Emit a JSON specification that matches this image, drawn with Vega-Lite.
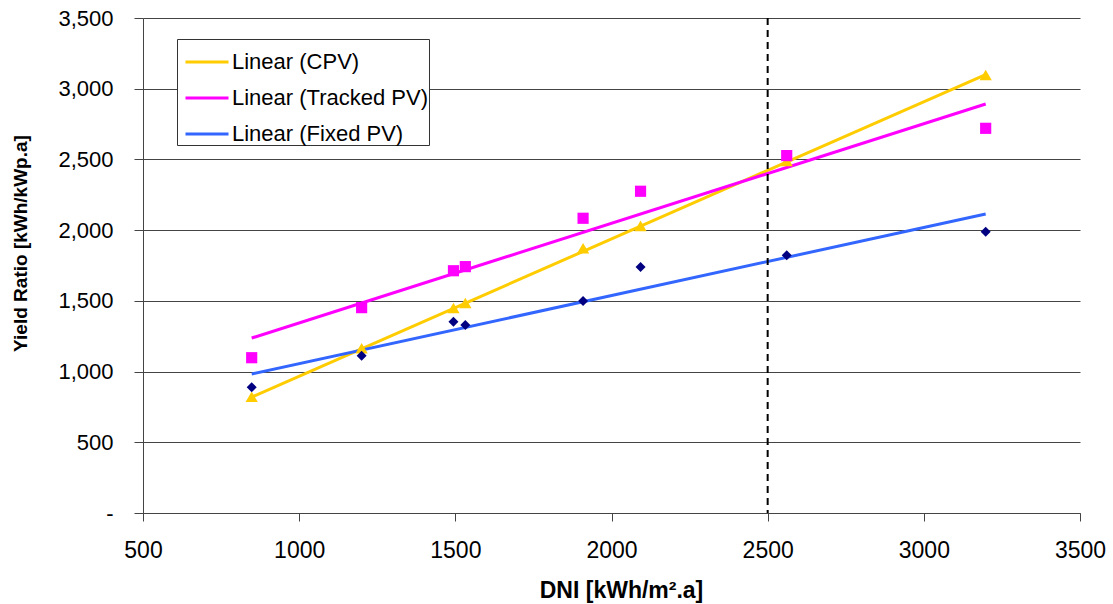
{
  "$schema": "https://vega.github.io/schema/vega-lite/v6.json",
  "autosize": {"type": "none"},
  "width": 937,
  "height": 495,
  "padding": {"left": 143, "top": 18, "right": 33, "bottom": 91},
  "background": "white",
  "config": {
    "view": {"stroke": null},
    "font": "Liberation Sans"
  },
  "datasets": {
    "pts": [
      {"series": "CPV", "dni": 848, "yield": 822},
      {"series": "CPV", "dni": 1200, "yield": 1165},
      {"series": "CPV", "dni": 1494, "yield": 1450},
      {"series": "CPV", "dni": 1532, "yield": 1485},
      {"series": "CPV", "dni": 1909, "yield": 1872},
      {"series": "CPV", "dni": 2093, "yield": 2030},
      {"series": "CPV", "dni": 2561, "yield": 2490},
      {"series": "CPV", "dni": 3198, "yield": 3097},
      {"series": "Tracked PV", "dni": 848, "yield": 1098},
      {"series": "Tracked PV", "dni": 1200, "yield": 1452},
      {"series": "Tracked PV", "dni": 1494, "yield": 1713},
      {"series": "Tracked PV", "dni": 1532, "yield": 1742},
      {"series": "Tracked PV", "dni": 1909, "yield": 2084},
      {"series": "Tracked PV", "dni": 2093, "yield": 2275},
      {"series": "Tracked PV", "dni": 2561, "yield": 2527},
      {"series": "Tracked PV", "dni": 3198, "yield": 2720},
      {"series": "Fixed PV", "dni": 848, "yield": 889},
      {"series": "Fixed PV", "dni": 1200, "yield": 1112},
      {"series": "Fixed PV", "dni": 1494, "yield": 1353},
      {"series": "Fixed PV", "dni": 1532, "yield": 1329},
      {"series": "Fixed PV", "dni": 1909, "yield": 1499},
      {"series": "Fixed PV", "dni": 2093, "yield": 1739},
      {"series": "Fixed PV", "dni": 2561, "yield": 1822},
      {"series": "Fixed PV", "dni": 3198, "yield": 1989}
    ],
    "trend": [
      {"trend": "Linear (CPV)", "dni": 848, "yield": 820},
      {"trend": "Linear (CPV)", "dni": 3198, "yield": 3100},
      {"trend": "Linear (Tracked PV)", "dni": 848, "yield": 1237},
      {"trend": "Linear (Tracked PV)", "dni": 3198, "yield": 2892},
      {"trend": "Linear (Fixed PV)", "dni": 848, "yield": 983},
      {"trend": "Linear (Fixed PV)", "dni": 3198, "yield": 2114}
    ],
    "marker": [
      {"dni": 2500}
    ]
  },
  "layer": [
    {
      "data": {"name": "trend"},
      "mark": {"type": "line", "strokeWidth": 3},
      "encoding": {
        "x": {
          "field": "dni", "type": "quantitative",
          "scale": {"domain": [500, 3500], "nice": false, "zero": false},
          "axis": {
            "values": [500, 1000, 1500, 2000, 2500, 3000, 3500],
            "grid": false,
            "title": "DNI [kWh/m².a]",
            "titleFontSize": 23,
            "titleFontWeight": "bold",
            "titleColor": "black",
            "titleX": 478,
            "titleY": 77,
            "titleBaseline": "middle",
            "labelFontSize": 23,
            "labelColor": "black",
            "labelPadding": 18,
            "labelFlush": false,
            "labelExpr": "format(datum.value, 'd')",
            "domainColor": "#444",
            "tickColor": "#444",
            "tickSize": 8
          }
        },
        "y": {
          "field": "yield", "type": "quantitative",
          "scale": {"domain": [0, 3500], "nice": false},
          "axis": {
            "values": [0, 500, 1000, 1500, 2000, 2500, 3000, 3500],
            "grid": true,
            "gridColor": "#444",
            "gridWidth": 1,
            "title": "Yield Ratio [kWh/kWp.a]",
            "titleFontSize": 19,
            "titleFontWeight": "bold",
            "titleColor": "black",
            "titleAngle": -90,
            "titleX": -123,
            "titleY": 225,
            "titleAlign": "center",
            "titleBaseline": "middle",
            "labelFontSize": 22,
            "labelColor": "black",
            "labelPadding": 21,
            "labelExpr": "datum.value == 0 ? '-' : format(datum.value, ',')",
            "domainColor": "#444",
            "tickColor": "#444",
            "tickSize": 9
          }
        },
        "color": {
          "field": "trend", "type": "nominal",
          "scale": {
            "domain": ["Linear (CPV)", "Linear (Tracked PV)", "Linear (Fixed PV)"],
            "range": ["#FFCC00", "#FF00FF", "#3366FF"]
          },
          "legend": {
            "title": null,
            "orient": "none",
            "legendX": 34,
            "legendY": 21,
            "symbolType": "stroke",
            "symbolSize": 1849,
            "symbolStrokeWidth": 3,
            "symbolOffset": 7,
            "labelFontSize": 22,
            "labelColor": "black",
            "labelOffset": 2,
            "labelLimit": 400,
            "rowPadding": 2,
            "padding": 0,
            "strokeColor": "#333",
            "fillColor": "white"
          }
        }
      }
    },
    {
      "data": {"name": "pts"},
      "mark": {"type": "point", "filled": true, "opacity": 1},
      "encoding": {
        "x": {"field": "dni", "type": "quantitative"},
        "y": {"field": "yield", "type": "quantitative"},
        "shape": {
          "field": "series", "type": "nominal",
          "scale": {"domain": ["CPV", "Tracked PV", "Fixed PV"], "range": ["triangle-up", "square", "diamond"]},
          "legend": null
        },
        "fill": {
          "field": "series", "type": "nominal",
          "scale": {"domain": ["CPV", "Tracked PV", "Fixed PV"], "range": ["#FFCC00", "#FF00FF", "#000080"]},
          "legend": null
        },
        "size": {
          "field": "series", "type": "nominal",
          "scale": {"domain": ["CPV", "Tracked PV", "Fixed PV"], "range": [150, 100, 140]},
          "legend": null
        }
      }
    },
    {
      "data": {"name": "marker"},
      "mark": {"type": "rule", "color": "black", "strokeWidth": 2, "strokeDash": [7, 5]},
      "encoding": {"x": {"field": "dni", "type": "quantitative"}}
    }
  ]
}
